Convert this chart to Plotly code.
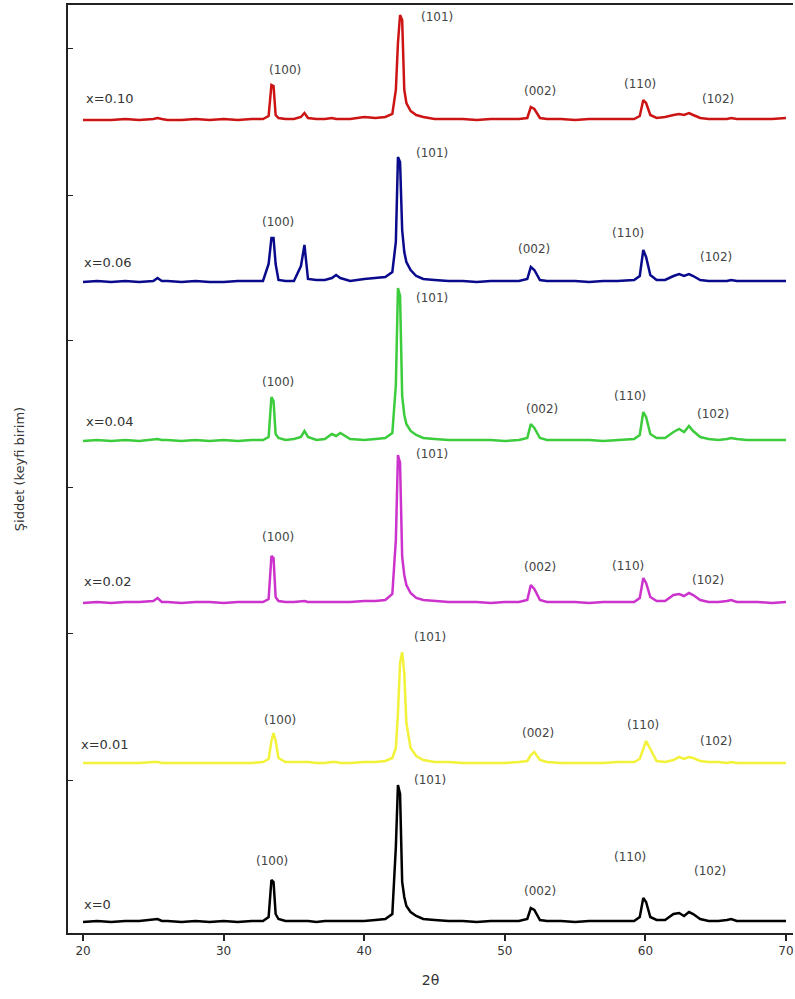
import plotly.graph_objects as go

# 2θ sampling positions (degrees)
two_theta = [
    20, 21, 22, 23, 24, 25, 25.3, 25.6, 26, 27, 28, 29, 30, 31, 32,                     # A
    32.8, 33.2, 33.4, 33.55, 33.7, 33.9, 34.4, 35.0, 35.5, 35.75, 36.0, 36.6, 37.2,
    37.7, 38.0, 38.3, 39.0, 40.0, 40.8,                                                  # B
    41.5, 42.0, 42.25, 42.4, 42.55, 42.7, 42.85, 43.0, 43.3, 43.7, 44.2, 45.0,            # C
    46, 47, 48, 49, 50, 51,                                                              # D
    51.6, 51.85, 52.1, 52.5, 53,                                                         # E
    54, 55, 56, 57, 58,                                                                  # F
    59.2, 59.6, 59.85, 60.05, 60.35, 60.8, 61.4, 62.0, 62.4, 62.75, 63.1, 63.4, 63.9, 64.5,  # G
    65.2, 65.8, 66.1, 66.5, 67.2, 68, 69, 70,                                            # H
]

# Intensities (arbitrary units) above each pattern's own baseline
int_x000 = [
    0, 1, 0, 1, 1, 2, 3, 1, 1, 0, 1, 0, 1, 0, 1,
    1, 5, 42, 40, 8, 3, 1, 1, 1, 1, 1, 0, 1, 1, 1, 1, 1, 1, 2,
    3, 8, 75, 137, 128, 40, 25, 16, 10, 6, 3, 2,
    1, 1, 0, 1, 1, 1,
    3, 14, 12, 2, 1,
    1, 0, 1, 1, 1,
    1, 5, 24, 20, 5, 2, 2, 8, 9, 6, 10, 8, 3, 1,
    1, 2, 3, 1, 1, 1, 1, 1,
]
int_x001 = [
    0, 0, 0, 0, 0, 1, 1, 0, 0, 0, 0, 0, 0, 0, 0,
    1, 4, 22, 30, 22, 5, 1, 1, 1, 1, 1, 0, 0, 1, 1, 0, 0, 1, 1,
    2, 5, 15, 50, 100, 111, 90, 40, 15, 7, 3, 1,
    1, 0, 0, 0, 0, 1,
    2, 8, 11, 3, 1,
    0, 0, 0, 0, 1,
    1, 4, 14, 22, 14, 2, 1, 3, 6, 4, 6, 5, 2, 1,
    1, 0, 1, 0, 0, 0, 0, 0,
]
int_x002 = [
    0, 1, 0, 1, 1, 2, 5, 1, 1, 0, 1, 1, 0, 1, 1,
    1, 4, 47, 45, 6, 2, 1, 1, 2, 2, 1, 1, 1, 1, 1, 1, 1, 2, 2,
    3, 9, 63, 148, 140, 46, 28, 18, 10, 5, 3, 2,
    1, 1, 1, 0, 1, 1,
    3, 18, 14, 3, 1,
    1, 1, 0, 1, 1,
    1, 5, 25, 20, 6, 2, 2, 8, 9, 7, 10, 8, 3, 1,
    1, 2, 3, 1, 1, 1, 0, 1,
]
int_x004 = [
    0, 1, 0, 1, 0, 1, 2, 1, 1, 0, 1, 0, 1, 0, 1,
    1, 4, 44, 40, 7, 3, 1, 2, 4, 10, 4, 1, 2, 7, 5, 8, 2, 1, 2,
    3, 8, 56, 153, 145, 45, 26, 17, 10, 6, 3, 2,
    1, 1, 1, 1, 0, 1,
    3, 17, 13, 3, 1,
    1, 1, 1, 0, 1,
    2, 6, 29, 24, 7, 3, 3, 9, 12, 9, 15, 10, 4, 2,
    1, 2, 3, 2, 1, 1, 1, 1,
]
int_x006 = [
    0, 1, 0, 1, 0, 1, 4, 1, 1, 0, 1, 0, 0, 1, 1,
    1, 18, 44, 44, 18, 2, 1, 1, 16, 37, 3, 2, 2, 4, 7, 4, 1, 3, 4,
    5, 10, 40, 125, 120, 52, 30, 20, 12, 6, 3, 2,
    1, 1, 0, 1, 1, 1,
    3, 15, 12, 2, 1,
    1, 1, 0, 1, 1,
    2, 6, 32, 25, 7, 2, 2, 6, 8, 6, 8, 6, 2, 1,
    1, 1, 2, 1, 1, 1, 1, 1,
]
int_x010 = [
    0, 0, 0, 1, 0, 1, 2, 1, 0, 0, 1, 0, 1, 0, 1,
    1, 4, 35, 34, 5, 2, 1, 1, 3, 7, 2, 1, 1, 2, 1, 1, 1, 3, 2,
    3, 6, 30, 77, 105, 100, 30, 17, 9, 5, 3, 1,
    1, 1, 0, 1, 1, 1,
    2, 13, 11, 2, 1,
    1, 0, 1, 1, 1,
    1, 4, 20, 17, 5, 2, 3, 5, 6, 5, 7, 5, 2, 1,
    1, 1, 2, 1, 1, 1, 1, 2,
]

series_names = ["x=0", "x=0.01", "x=0.02", "x=0.04", "x=0.06", "x=0.10"]
series_values = [int_x000, int_x001, int_x002, int_x004, int_x006, int_x010]
series_offsets = [0, 159, 319, 481, 640, 802]
series_colors = ["#000000", "#f2f23a", "#cc33cc", "#3ccc3c", "#0a0a8c", "#cc1414"]

hkl_labels = ["(100)", "(101)", "(002)", "(110)", "(102)"]
# label anchor positions (2θ, height above baseline) for sample name and hkl labels
name_pos = [(21.06, 18), (21.56, 19), (21.77, 22), (21.92, 20), (21.77, 20), (21.92, 22)]
hkl_pos = [
    [(33.44, 61), (44.68, 142), (52.5, 31), (58.9, 65), (64.59, 51)],
    [(34.01, 43), (44.68, 126), (52.36, 30), (59.83, 38), (65.02, 22)],
    [(33.87, 66), (44.82, 149), (52.5, 36), (58.76, 37), (64.45, 23)],
    [(33.87, 59), (44.82, 143), (52.64, 32), (58.9, 45), (64.8, 27)],
    [(33.87, 60), (44.82, 129), (52.07, 33), (58.76, 49), (65.02, 25)],
    [(34.36, 50), (45.17, 103), (52.5, 29), (59.61, 36), (65.16, 21)],
]

ytick_vals = [142, 289, 435, 582, 727, 874]

fig = go.Figure()
annotations = []
for name, vals, off, col, npos, hpos in zip(series_names, series_values, series_offsets,
                                             series_colors, name_pos, hkl_pos):
    assert len(vals) == len(two_theta), (name, len(vals), len(two_theta))
    fig.add_trace(go.Scatter(
        x=two_theta, y=[v + off for v in vals], mode="lines", name=name,
        line=dict(color=col, width=2.5), showlegend=False, hoverinfo="skip",
    ))
    annotations.append(dict(x=npos[0], y=npos[1] + off, text=name, showarrow=False,
                            xref="x", yref="y",
                            font=dict(family="DejaVu Sans", size=13, color="#333333")))
    for lab, (hx, hy) in zip(hkl_labels, hpos):
        annotations.append(dict(x=hx, y=hy + off, text=lab, showarrow=False,
                                xref="x", yref="y",
                                font=dict(family="DejaVu Sans", size=12, color="#444444")))

fig.update_layout(
    width=795, height=999, autosize=False,
    margin=dict(l=68, r=2, t=5, b=66),
    paper_bgcolor="white", plot_bgcolor="white",
    font=dict(family="Liberation Sans, Arial, sans-serif", color="#222222"),
    annotations=annotations,
    xaxis=dict(
        range=[18.93, 70.5], tickvals=[20, 30, 40, 50, 60, 70],
        ticks="outside", ticklen=6, tickcolor="#222222", tickwidth=1.5,
        showline=True, linecolor="#222222", linewidth=2, mirror=True,
        showgrid=False, zeroline=False, automargin=False,
        tickfont=dict(family="DejaVu Sans", size=12, color="#333333"),
        title=dict(text="2θ", font=dict(family="DejaVu Sans", size=14, color="#333333"),
                   standoff=18),
    ),
    yaxis=dict(
        range=[-11, 917], tickvals=ytick_vals, showticklabels=False,
        ticks="inside", ticklen=5, tickcolor="#222222",
        showline=True, linecolor="#222222", linewidth=2,
        showgrid=False, zeroline=False, automargin=False,
        title=dict(text="Şiddet (keyfi birim)",
                   font=dict(family="DejaVu Sans", size=13, color="#333333"), standoff=38),
    ),
)

fig.write_html("out.html", config={"displayModeBar": False},
               post_script="document.body.style.margin='0px';document.body.style.overflow='hidden';")
